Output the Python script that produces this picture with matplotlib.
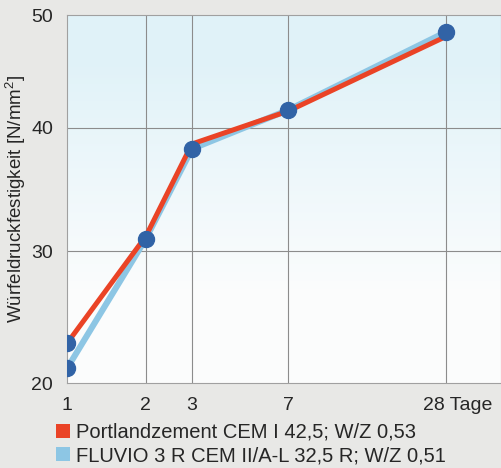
import numpy as np
import matplotlib
matplotlib.use("Agg")
import matplotlib.pyplot as plt
import matplotlib.transforms as mtransforms
from matplotlib.patches import Patch

plt.rcParams['font.family'] = ['Liberation Sans', 'DejaVu Sans']
plt.rcParams['mathtext.fontset'] = 'custom'
plt.rcParams['mathtext.rm'] = 'Liberation Sans'
plt.rcParams['mathtext.it'] = 'Liberation Sans'

# data
days = [1, 2, 3, 7, 28]
day_labels = ['1', '2', '3', '7', '28 Tage']
portland = [23.0, 31.2, 38.7, 41.5, 48.1]
fluvio = [21.1, 31.0, 38.3, 41.6, 48.5]
y_ticks = [20, 30, 40, 50]
series_names = ['Portlandzement CEM I 42,5; W/Z 0,53',
                'FLUVIO 3 R CEM II/A-L 32,5 R; W/Z 0,51']

red = '#ea4326'
light_blue = '#8dc6e4'
dot_blue = '#3163a6'
text_col = '#262626'

# the printed y axis is not quite evenly spaced
y_break_vals = [20, 30, 40, 50]
y_break_pos = [0, 132, 255, 368]

def y_fwd(v):
    return np.interp(v, y_break_vals, y_break_pos)

def y_inv(p):
    return np.interp(p, y_break_pos, y_break_vals)

fig = plt.figure(figsize=(5.02, 4.68), dpi=100)
fig.patch.set_facecolor('#e8e8e6')
ax = fig.add_axes([67 / 502, 1 - 383 / 468, 434 / 502, 368 / 468])

ax.set_xscale('log')
ax.set_yscale('function', functions=(y_fwd, y_inv))
ax.set_xlim(1, 45.4)
ax.set_ylim(20, 50)

# light blue to white background gradient
grad = np.linspace(0, 1, 256).reshape(-1, 1)
top = np.array([0.88, 0.95, 0.975])
bot = np.array([0.985, 0.99, 0.99])
w = np.clip(grad * 1.6 - 0.4, 0, 1)
img = bot + (top - bot) * w[..., None]
ax.imshow(img, extent=[0, 1, 0, 1], transform=ax.transAxes, origin='lower',
          aspect='auto', zorder=0)

for d in days[1:]:
    ax.axvline(d, color='#8c8c8c', lw=0.8, zorder=1)
for v in y_ticks[1:3]:
    ax.axhline(v, color='#8c8c8c', lw=0.8, zorder=1)

ax.plot(days, fluvio, color=light_blue, lw=4.4, zorder=3, solid_capstyle='butt')
ax.plot(days, portland, color=red, lw=3.6, zorder=4, solid_capstyle='butt')
ax.plot(days, fluvio, ls='none', marker='o', ms=11.5, color=dot_blue, zorder=5)
ax.plot(days[:1], portland[:1], ls='none', marker='o', ms=11.5, color=dot_blue, zorder=5)

ax.set_xticks(days)
ax.set_xticklabels(day_labels)
ax.xaxis.set_minor_locator(matplotlib.ticker.NullLocator())
ax.set_yticks(y_ticks)
ax.set_yticklabels([str(v) for v in y_ticks])
ax.tick_params(length=0, labelsize=14, colors=text_col)
ax.tick_params(axis='x', pad=10)
ax.tick_params(axis='y', pad=10)

lab28 = ax.get_xticklabels()[-1]
lab28.set_horizontalalignment('left')
lab28.set_transform(lab28.get_transform() +
                    mtransforms.ScaledTranslation(-23 / 100, 0, fig.dpi_scale_trans))

ax.set_ylabel('Würfeldruckfestigkeit [N/mm$^{2}$]', fontsize=13.5, color=text_col,
              va='center')
ax.yaxis.set_label_coords(-51 / 434, 0.5)

for s in ax.spines.values():
    s.set_color('#a0a0a0')
    s.set_linewidth(0.8)

handles = [Patch(facecolor=red, edgecolor='none'),
           Patch(facecolor=light_blue, edgecolor='none')]
fig.legend(handles, series_names, loc='upper left', bbox_to_anchor=(56 / 502, 1 - 423 / 468),
           frameon=False, fontsize=14.5, handlelength=0.7, handleheight=0.7,
           handletextpad=0.3, labelspacing=0.22, borderpad=0, borderaxespad=0,
           labelcolor=text_col)

fig.savefig('out.png', dpi=100, facecolor=fig.get_facecolor())
